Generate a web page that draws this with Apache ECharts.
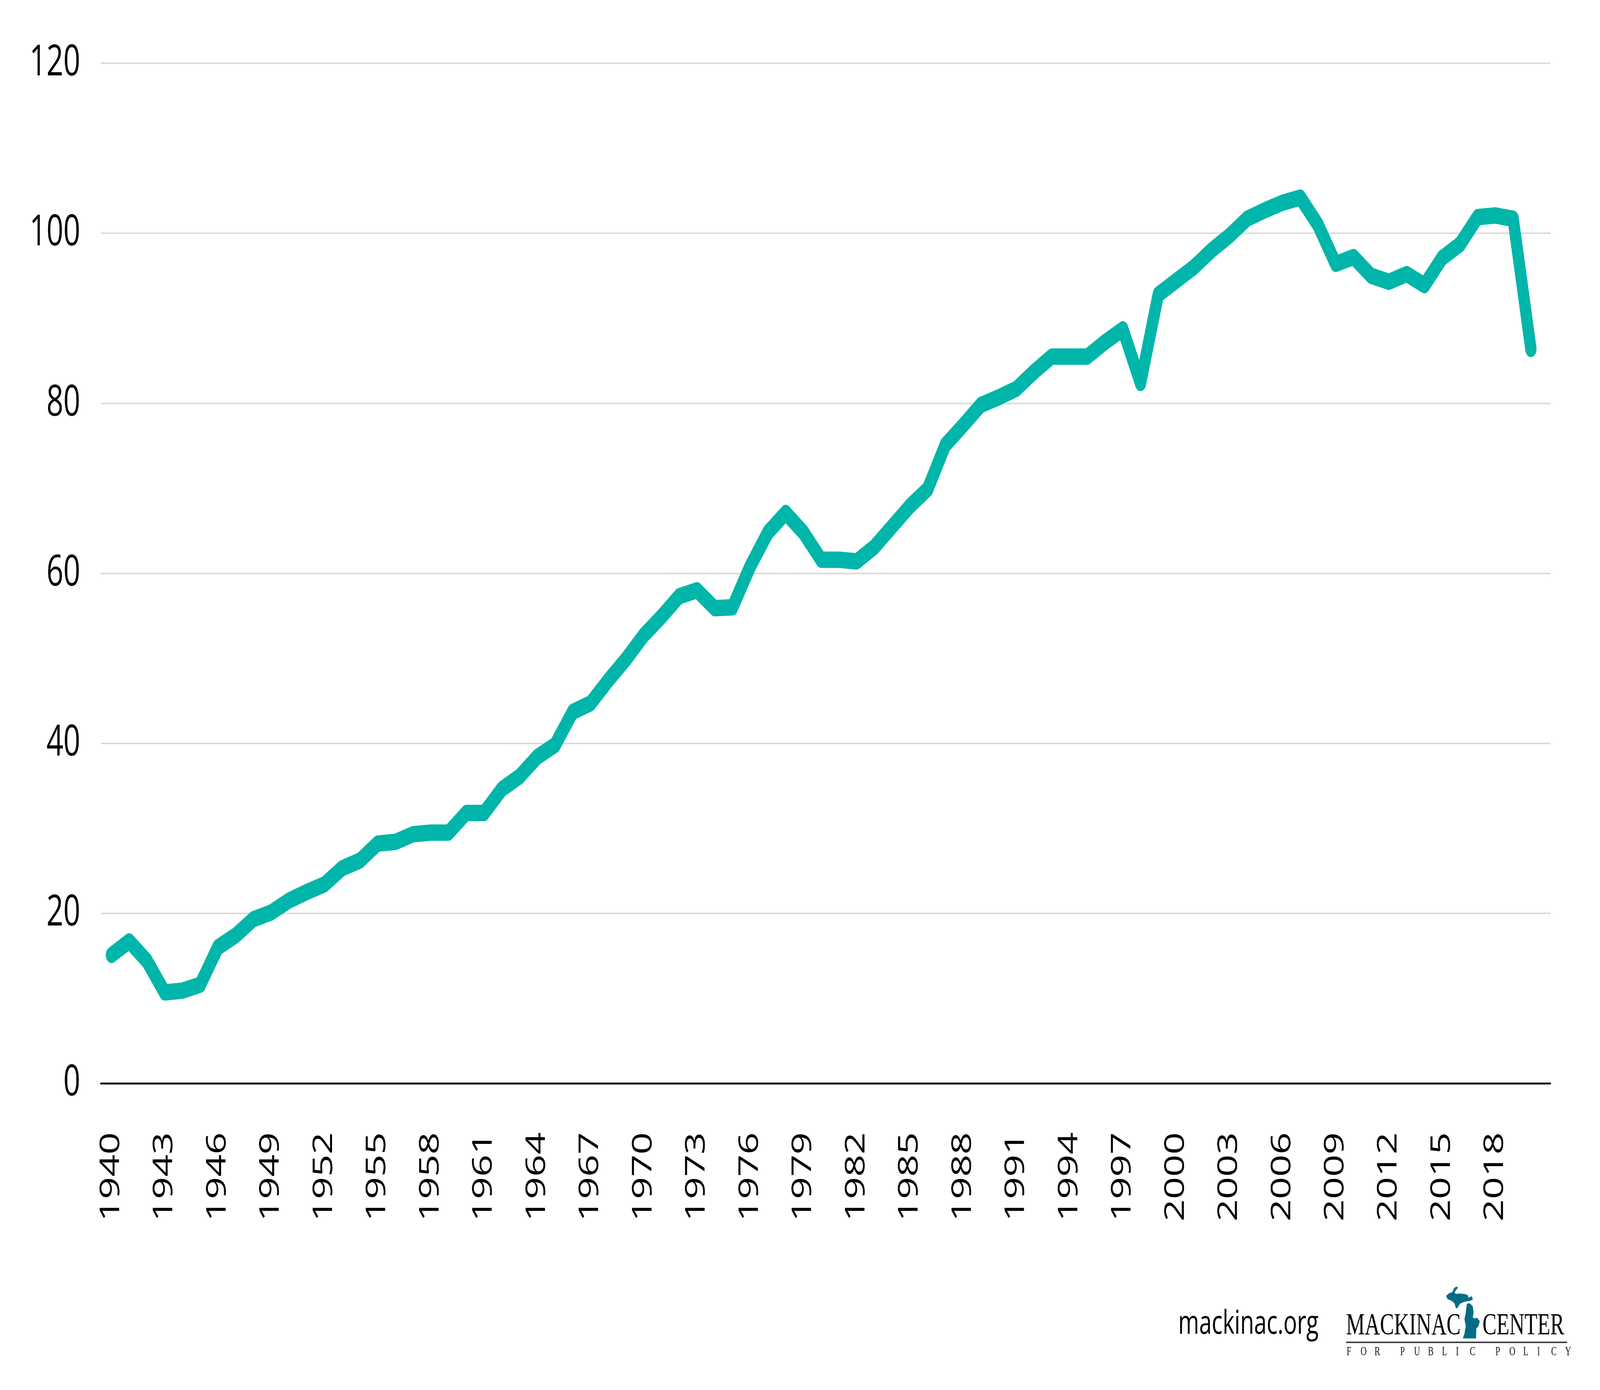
<!DOCTYPE html>
<html>
<head>
<meta charset="utf-8">
<script src="https://cdn.jsdelivr.net/npm/echarts@6/dist/echarts.min.js"></script>
<style>
html,body{margin:0;padding:0;background:#fff;overflow:hidden;}
#chart{width:5936px;height:3558px;transform-origin:0 0;position:absolute;left:0;top:0;}
</style>
</head>
<body>
<div id="chart"></div>
<script>
const years = [];
for (let y = 1940; y <= 2020; y++) years.push(y);
const values = [
  15.1, 16.7, 14.4, 10.7, 10.9, 11.6, 16.0, 17.4, 19.3, 20.1,
  21.5, 22.5, 23.4, 25.3, 26.2, 28.2, 28.4, 29.3, 29.5, 29.5,
  31.8, 31.8, 34.6, 36.1, 38.4, 39.8, 43.7, 44.7, 47.4, 49.9,
  52.7, 54.9, 57.3, 58.0, 55.9, 56.0, 60.8, 64.8, 67.1, 64.8,
  61.6, 61.6, 61.4, 63.1, 65.5, 67.9, 69.9, 75.1, 77.4, 79.8,
  80.7, 81.7, 83.7, 85.5, 85.5, 85.5, 87.2, 88.7, 82.4, 92.8,
  94.4, 96.0, 98.0, 99.7, 101.7, 102.7, 103.6, 104.2, 101.0, 96.4,
  97.2, 95.0, 94.3, 95.2, 93.9, 97.1, 98.7, 101.9, 102.1, 101.7,
  86.4
];
const xTickLabels = [1940,1943,1946,1949,1952,1955,1958,1961,1964,1967,1970,1973,1976,1979,1982,1985,1988,1991,1994,1997,2000,2003,2006,2009,2012,2015,2018];
const yTicks = [0,20,40,60,80,100,120];

const seriesData = years.map((y, i) => [y, values[i]]);

const el = document.getElementById('chart');
// fit the 5936x3558 design into whatever viewport is actually available
const vw = window.innerWidth || 5936, vh = window.innerHeight || 3558;
el.style.transform = 'scale(' + (vw / 5936) + ',' + (vh / 3558) + ')';

// Michigan silhouette (decorative logo)
const upperPen = [[5404,3293],[5409,3296],[5396,3308],[5401,3312],[5417,3311],[5438,3313],[5448,3317],[5446,3322],[5461,3318],[5464,3327],[5453,3330],[5433,3332],[5417,3337],[5406,3349],[5401,3348],[5396,3336],[5386,3330],[5370,3325],[5365,3317],[5375,3311],[5388,3307],[5396,3296]];
const lowerPen = [[5443,3337],[5453,3336],[5464,3344],[5467,3360],[5464,3372],[5471,3375],[5480,3373],[5490,3382],[5485,3394],[5477,3401],[5476,3426],[5427,3426],[5433,3414],[5438,3394],[5433,3377],[5438,3360],[5440,3346]];

const tagline = 'FOR PUBLIC POLICY';
const tagEls = [];
{
  let x = 4996, pitch = 51.7, gap = 43.3;
  for (const ch of tagline) {
    if (ch === ' ') { x += gap; continue; }
    tagEls.push({
      type: 'text', x: x, y: 3461,
      style: { text: ch, fontFamily: 'Liberation Serif', fontSize: 31, fill: '#111', verticalAlign: 'middle' }
    });
    x += pitch;
  }
}

const chart = echarts.init(el, null, {renderer: 'canvas', width: 5936, height: 3558});
chart.setOption({
  backgroundColor: '#ffffff',
  animation: false,
  grid: { left: 374, right: 184, top: 162, bottom: 785, containLabel: false },
  xAxis: {
    type: 'value',
    min: 1939.4,
    max: 2021.1,
    axisLine: { show: true, onZero: true, lineStyle: { color: '#111', width: 5 } },
    axisTick: { show: false },
    splitLine: { show: false },
    axisLabel: {
      customValues: xTickLabels,
      rotate: 90,
      margin: 125,
      fontSize: 100,
      fontFamily: 'Open Sans',
      color: '#000',
      formatter: v => String(v)
    }
  },
  yAxis: {
    type: 'value',
    min: 0,
    max: 120,
    interval: 20,
    axisLine: { show: false },
    axisTick: { show: false },
    splitLine: { show: true, lineStyle: { color: '#dadada', width: 4 } },
    axisLabel: {
      margin: 76,
      fontSize: 110,
      fontFamily: 'Open Sans',
      color: '#000'
    }
  },
  series: [{
    type: 'line',
    data: seriesData,
    showSymbol: false,
    symbol: 'none',
    lineStyle: { color: '#00b5a9', width: 42, cap: 'round', join: 'round' },
    z: 3
  }],
  graphic: [
    { type: 'text', x: 4371, y: 3390,
      style: { text: 'mackinac.org', fontFamily: 'Open Sans', fontSize: 84, fill: '#000', verticalAlign: 'middle' } },
    { type: 'text', x: 4994, y: 3395,
      style: { text: 'MACKINAC', fontFamily: 'Liberation Serif', fontSize: 78, fill: '#000', verticalAlign: 'middle' } },
    { type: 'text', x: 5500, y: 3395,
      style: { text: 'CENTER', fontFamily: 'Liberation Serif', fontSize: 78, fill: '#000', verticalAlign: 'middle' } },
    { type: 'polygon', shape: { points: upperPen }, style: { fill: '#046d86' } },
    { type: 'polygon', shape: { points: lowerPen }, style: { fill: '#046d86' } },
    { type: 'line', shape: { x1: 4994, y1: 3436, x2: 5814, y2: 3436 }, style: { stroke: '#444', lineWidth: 4 } }
  ].concat(tagEls)
});
</script>
</body>
</html>
